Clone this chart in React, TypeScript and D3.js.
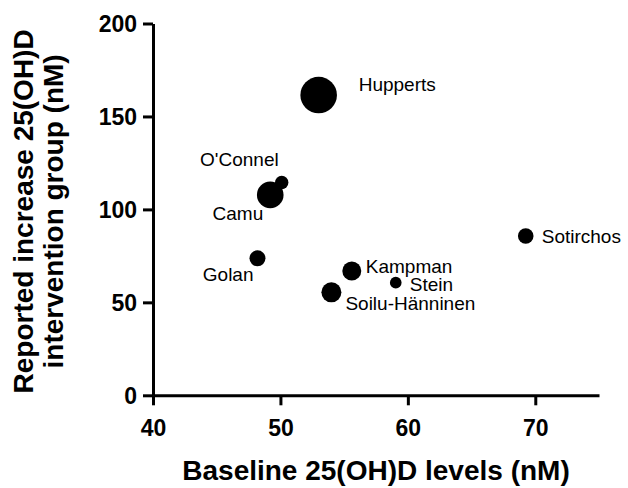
import React, { useEffect, useRef } from "react";
import * as d3 from "d3";

// study names, baseline 25(OH)D (nM), reported increase (nM), bubble weight
const studies = ["Hupperts", "O'Connel", "Camu", "Golan", "Kampman", "Stein", "Soilu-Hänninen", "Sotirchos"];
const baseline = [53.0, 50.1, 49.2, 48.2, 55.6, 59.05, 54.0, 69.25];
const increase = [161.5, 114.5, 107.8, 73.7, 66.9, 60.6, 55.4, 85.7];
const weight = [335, 45, 177, 64, 90, 34, 100, 61];

const xTicks = [40, 50, 60, 70];
const yTicks = [0, 50, 100, 150, 200];

// where each study label sits relative to its bubble
const labelPos = {
  "Hupperts": { dx: 40, dy: -4, anchor: "start" },
  "O'Connel": { dx: -3, dy: -16, anchor: "end" },
  "Camu": { dx: -7, dy: 25, anchor: "end" },
  "Golan": { dx: -4, dy: 23, anchor: "end" },
  "Kampman": { dx: 14, dy: 2, anchor: "start" },
  "Stein": { dx: 14, dy: 8, anchor: "start" },
  "Soilu-Hänninen": { dx: 14, dy: 18, anchor: "start" },
  "Sotirchos": { dx: 16, dy: 7.5, anchor: "start" },
};

const FONT = "'Liberation Sans', Arial, Helvetica, sans-serif";

const App = () => {
  const svgRef = useRef(null);
  const width = 628;
  const height = 488;

  useEffect(() => {
    const svg = d3.select(svgRef.current);
    svg.selectAll("*").remove();

    //x scale
    const xScale = d3.scaleLinear().domain([40, 75]).range([153, 599]);

    //y scale
    const yScale = d3.scaleLinear().domain([0, 200]).range([395.3, 23.5]);

    //bubble size
    const rScale = d3.scaleSqrt().domain([0, 335]).range([0, 18.3]);

    // x axis
    const xAxis = svg
      .append("g")
      .attr("transform", `translate(0,${yScale(0)})`)
      .call(d3.axisBottom(xScale).tickValues(xTicks).tickSize(10).tickSizeOuter(0).tickPadding(14));

    // y axis
    const yAxis = svg
      .append("g")
      .attr("transform", `translate(${xScale(40)},0)`)
      .call(d3.axisLeft(yScale).tickValues(yTicks).tickSize(10).tickSizeOuter(0).tickPadding(6));

    [xAxis, yAxis].forEach((ax) => {
      ax.select(".domain").attr("stroke", "#000").attr("stroke-width", 3);
      ax.selectAll(".tick line").attr("stroke", "#000").attr("stroke-width", 3);
      ax.selectAll(".tick text")
        .attr("fill", "#000")
        .style("font-family", FONT)
        .style("font-weight", "bold")
        .style("font-size", "23px");
    });
    yAxis.selectAll(".tick text").attr("dy", "0.36em");

    // bubbles, biggest first so small ones stay on top
    const idx = d3.range(studies.length).sort((a, b) => weight[b] - weight[a]);
    svg
      .selectAll("circle.study")
      .data(idx)
      .enter()
      .append("circle")
      .attr("class", "study")
      .attr("cx", (i) => xScale(baseline[i]))
      .attr("cy", (i) => yScale(increase[i]))
      .attr("r", (i) => rScale(weight[i]))
      .attr("fill", "#000");

    // study labels
    svg
      .selectAll("text.study")
      .data(d3.range(studies.length))
      .enter()
      .append("text")
      .attr("class", "study")
      .attr("x", (i) => xScale(baseline[i]) + labelPos[studies[i]].dx)
      .attr("y", (i) => yScale(increase[i]) + labelPos[studies[i]].dy)
      .attr("text-anchor", (i) => labelPos[studies[i]].anchor)
      .style("font-family", FONT)
      .style("font-size", "19px")
      .attr("fill", "#000")
      .text((i) => studies[i]);

    // x title
    svg
      .append("text")
      .attr("x", (xScale(40) + xScale(75)) / 2)
      .attr("y", 480)
      .attr("text-anchor", "middle")
      .style("font-family", FONT)
      .style("font-weight", "bold")
      .style("font-size", "28px")
      .text("Baseline 25(OH)D levels (nM)");

    // y title, two lines
    const yTitle = svg
      .append("text")
      .attr("transform", `translate(0,${(yScale(0) + yScale(200)) / 2 + 2}) rotate(-90)`)
      .attr("text-anchor", "middle")
      .style("font-family", FONT)
      .style("font-weight", "bold")
      .style("font-size", "28px");
    yTitle.append("tspan").attr("x", 0).attr("y", 33).text("Reported increase 25(OH)D");
    yTitle.append("tspan").attr("x", 0).attr("y", 63).text("intervention group (nM)");
  }, []);

  return (
    <svg
      ref={svgRef}
      width={width}
      height={height}
      style={{ position: "absolute", left: 0, top: 0, background: "#fff" }}
    />
  );
};

export default App;
